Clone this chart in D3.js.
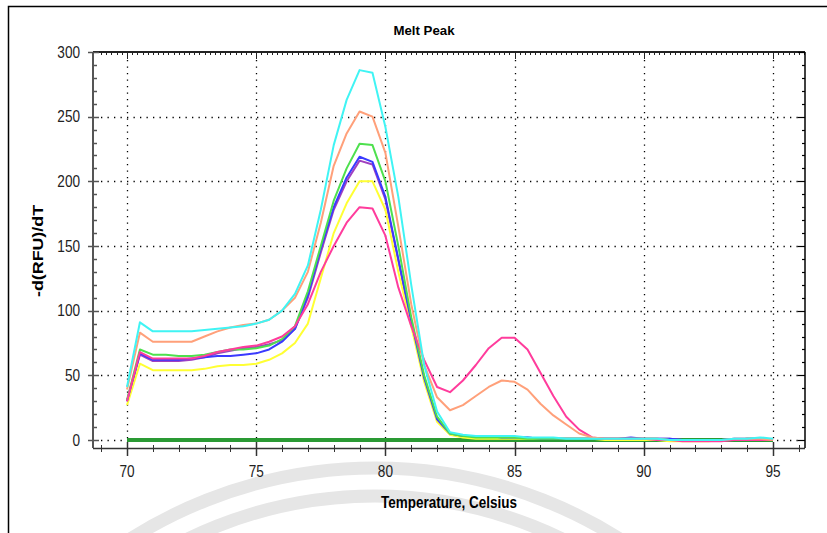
<!DOCTYPE html>
<html>
<head>
<meta charset="utf-8">
<title>Melt Peak</title>
<script src="https://cdn.jsdelivr.net/npm/d3@7"></script>
<style>
  body { margin: 0; background: #fff; }
  svg { display: block; }
  .narrow { font-family: "Liberation Sans Narrow", "Liberation Sans", Arial, sans-serif; }
  .bold { font-family: "Liberation Sans", Arial, sans-serif; font-weight: bold; }
</style>
</head>
<body>
<script>
// data: -d(RFU)/dT read every 0.5 C from 70 to 95
var temps = [70,70.5,71,71.5,72,72.5,73,73.5,74,74.5,75,75.5,76,76.5,77,77.5,78,78.5,79,79.5,
             80,80.5,81,81.5,82,82.5,83,83.5,84,84.5,85,85.5,86,86.5,87,87.5,88,88.5,89,89.5,
             90,90.5,91,91.5,92,92.5,93,93.5,94,94.5,95];

var cyan   = [41,91,84,84,84,84,85,86,87,88,90,93,100,113,135,178,228,263,286,284,
              242,188,120,58,22,6,4,3,3,3,3,2,2,2,1,1,1,1,1,1,
              1,1,0,0,0,0,0,1,1,2,1];
var salmon = [39,83,76,76,76,76,80,84,87,89,90,93,100,110,130,168,212,237,254,250,
              222,165,105,58,33,23,27,34,41,46,45,39,28,19,12,5,2,1,1,1,
              1,1,0,0,0,0,0,1,1,1,0];
var purple = [30,66,61,61,61,62,64,67,69,71,72,74,77,86,110,145,178,200,216,213,
              186,139,91,48,16,5,3,3,3,2,2,2,1,1,1,1,1,1,1,1,
              1,1,1,0,0,0,0,0,1,1,0];
var green  = [31,70,66,66,65,65,66,68,70,70,71,73,78,88,115,150,185,210,229,228,
              200,150,95,50,18,5,3,2,2,2,2,1,1,1,1,1,1,1,1,1,
              1,1,0,0,0,0,0,0,1,1,0];
var blue   = [30,67,62,62,62,63,64,65,65,66,67,70,76,86,112,148,180,203,219,215,
              188,140,92,48,16,5,3,3,3,2,2,2,1,1,1,1,1,1,1,2,
              1,1,1,0,0,0,0,1,1,1,0];
var yellow = [27,59,54,54,54,54,55,57,58,58,59,62,67,75,90,125,160,183,200,200,
              178,130,88,45,14,4,2,1,1,1,1,1,1,1,1,1,1,0,0,0,
              0,0,-1,-1,-1,-1,0,0,0,0,0];
var pink   = [30,68,63,63,63,63,65,68,70,72,73,76,80,88,105,130,150,168,180,179,
              158,118,88,62,41,37,46,58,71,79,79,70,52,34,18,8,2,1,1,1,
              1,0,0,-1,-1,-1,-1,0,0,0,0];
var ntc    = [0,0,0,0,0,0,0,0,0,0,0,0,0,0,0,0,0,0,0,0,
              0,0,0,0,0,0,0,0,0,0,0,0,0,0,0,0,0,0,0,0,
              0,0,0,0,0,0,0,0,0,0,0];

var seriesNames  = ["ntc","purple","yellow","blue","green","pink","salmon","cyan"];
var seriesValues = [ntc, purple, yellow, blue, green, pink, salmon, cyan];
var seriesColors = ["#2a9a34","#a040c0","#ffff33","#3a3aff","#4ee04e","#ff3c9c","#ffa07a","#40f4f4"];
var seriesWidths = [4,2,2,2,2,2,2,2];

var xTickVals = [70,75,80,85,90,95];
var yTickVals = [0,50,100,150,200,250,300];

var W = 827, H = 533;
var plotL = 93, plotR = 805, plotT = 52, plotB = 448;

var x = d3.scaleLinear().domain([70, 95]).range([127, 773]);
var y = d3.scaleLinear().domain([0, 300]).range([440, 52]);

var svg = d3.select("body").append("svg").attr("width", W).attr("height", H);

// watermark arcs
var arcs = svg.append("g").attr("fill", "none").attr("stroke", "#e6e6e6").attr("stroke-width", 13);
[457, 429].forEach(function(r) {
  arcs.append("path").attr("d", d3.arc()({innerRadius: r, outerRadius: r, startAngle: -Math.PI/2, endAngle: Math.PI/2}))
      .attr("transform", "translate(375," + (468 + 457) + ")");
});

// outer frame
svg.append("path").attr("d", "M8.5," + H + " L8.5,6.5 L" + W + ",6.5")
   .attr("fill", "none").attr("stroke", "#000").attr("stroke-width", 1.5);

// title
svg.append("text").attr("class", "narrow").attr("x", 424).attr("y", 35)
   .attr("text-anchor", "middle").attr("font-size", 13).attr("font-weight", "bold")
   .attr("textLength", 61).attr("lengthAdjust", "spacingAndGlyphs").text("Melt Peak");

// dotted grid
var grid = svg.append("g").attr("stroke", "#000").attr("stroke-width", 1.3).attr("stroke-dasharray", "1.3,5.2");
grid.selectAll("line.v").data(xTickVals).enter().append("line")
    .attr("x1", function(d) { return Math.round(x(d)) + 0.5; })
    .attr("x2", function(d) { return Math.round(x(d)) + 0.5; })
    .attr("y1", plotT + 8).attr("y2", plotB - 6);
grid.selectAll("line.h").data(yTickVals.slice(0, 6)).enter().append("line")
    .attr("y1", function(d) { return Math.round(y(d)) + 0.5; })
    .attr("y2", function(d) { return Math.round(y(d)) + 0.5; })
    .attr("x1", plotL + 8).attr("x2", plotR - 6);

// series
var line = d3.line()
  .x(function(d, i) { return x(temps[i]); })
  .y(function(d) { return y(d); });
svg.append("g").selectAll("path").data(seriesValues).enter().append("path")
   .attr("d", function(d) { return line(d); })
   .attr("fill", "none")
   .attr("stroke", function(d, i) { return seriesColors[i]; })
   .attr("stroke-width", function(d, i) { return seriesWidths[i]; })
   .attr("stroke-linejoin", "round");

// axes
var xMinor = d3.range(69, 97, 1);
var xTop = d3.range(69, 96.3, 0.2);
var yMinor = d3.range(0, 301, 10);

var ax = svg.append("g");
// bottom
ax.append("line").attr("x1", plotL).attr("x2", plotR).attr("y1", plotB + 0.5).attr("y2", plotB + 0.5)
  .attr("stroke", "#333").attr("stroke-width", 1.5);
ax.selectAll("line.bt").data(xMinor).enter().append("line")
  .attr("x1", function(d) { return Math.round(x(d)) + 0.5; })
  .attr("x2", function(d) { return Math.round(x(d)) + 0.5; })
  .attr("y1", function(d) { return d % 5 === 0 ? plotB - 6 : plotB - 3; })
  .attr("y2", function(d) { return d % 5 === 0 ? plotB + 8 : plotB + 4; })
  .attr("stroke", "#333").attr("stroke-width", function(d) { return d % 5 === 0 ? 1.5 : 1; });
// top
ax.append("line").attr("x1", plotL).attr("x2", plotR).attr("y1", plotT).attr("y2", plotT)
  .attr("stroke", "#222").attr("stroke-width", 2);
ax.selectAll("line.tt").data(xTop).enter().append("line")
  .attr("x1", function(d) { return Math.round(x(d)) + 0.5; })
  .attr("x2", function(d) { return Math.round(x(d)) + 0.5; })
  .attr("y1", plotT)
  .attr("y2", function(d) { return Math.abs(d - Math.round(d / 5) * 5) < 0.01 ? plotT + 7 : plotT + 3; })
  .attr("stroke", "#222").attr("stroke-width", 1);
// left
ax.append("line").attr("x1", plotL).attr("x2", plotL).attr("y1", plotT).attr("y2", plotB)
  .attr("stroke", "#555").attr("stroke-width", 2);
ax.selectAll("line.lt").data(yMinor).enter().append("line")
  .attr("y1", function(d) { return Math.round(y(d)) + 0.5; })
  .attr("y2", function(d) { return Math.round(y(d)) + 0.5; })
  .attr("x1", function(d) { return d % 50 === 0 ? plotL - 5 : plotL - 1; })
  .attr("x2", function(d) { return d % 50 === 0 ? plotL + 6 : plotL + 4; })
  .attr("stroke", "#555").attr("stroke-width", 1.5);
// right
ax.append("line").attr("x1", plotR).attr("x2", plotR).attr("y1", plotT).attr("y2", plotB)
  .attr("stroke", "#000").attr("stroke-width", 1.5);
ax.selectAll("line.rt").data(yMinor).enter().append("line")
  .attr("y1", function(d) { return Math.round(y(d)) + 0.5; })
  .attr("y2", function(d) { return Math.round(y(d)) + 0.5; })
  .attr("x1", function(d) { return d % 50 === 0 ? plotR - 7 : plotR - 3; })
  .attr("x2", plotR)
  .attr("stroke", "#000").attr("stroke-width", 1.2);

// tick labels (squeezed horizontally like the original narrow font)
svg.append("g").attr("class", "narrow").attr("font-size", 16).attr("fill", "#222")
   .selectAll("text").data(xTickVals).enter().append("text")
   .attr("transform", function(d) { return "translate(" + x(d) + ",477) scale(0.85,1)"; })
   .attr("text-anchor", "middle").text(function(d) { return d; });
svg.append("g").attr("class", "narrow").attr("font-size", 16).attr("fill", "#222")
   .selectAll("text").data(yTickVals).enter().append("text")
   .attr("transform", function(d) { return "translate(80," + y(d) + ") scale(0.85,1)"; })
   .attr("dy", "0.36em")
   .attr("text-anchor", "end").text(function(d) { return d; });

// axis titles
svg.append("text").attr("class", "narrow").attr("font-weight", "bold").attr("font-size", 17)
   .attr("x", 449).attr("y", 508).attr("text-anchor", "middle")
   .attr("textLength", 136).attr("lengthAdjust", "spacingAndGlyphs")
   .text("Temperature, Celsius");
svg.append("text").attr("class", "bold").attr("font-size", 15)
   .attr("transform", "translate(43,251) rotate(-90)").attr("text-anchor", "middle")
   .attr("textLength", 92).attr("lengthAdjust", "spacingAndGlyphs")
   .text("-d(RFU)/dT");
</script>
</body>
</html>
